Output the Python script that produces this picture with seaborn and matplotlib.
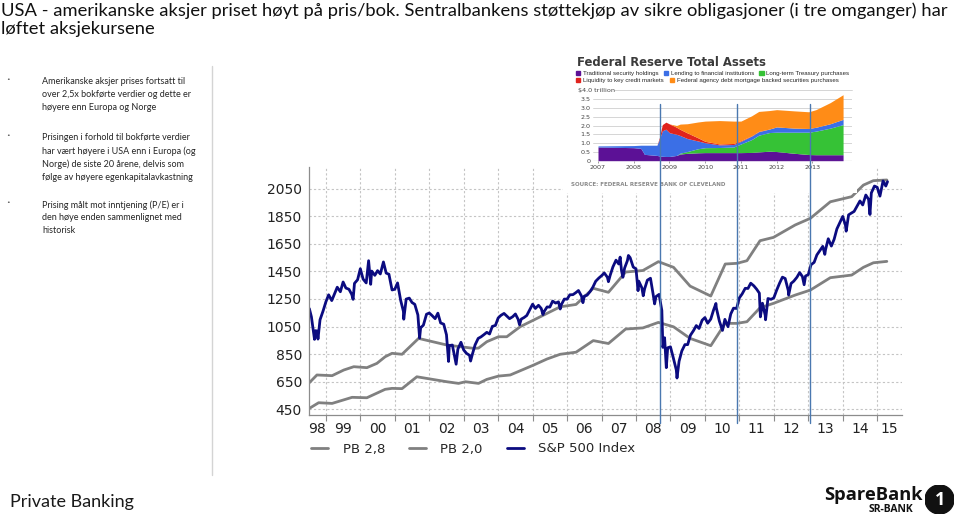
import numpy as np
import pandas as pd
import matplotlib
matplotlib.use('Agg')
import matplotlib.pyplot as plt
import seaborn as sns
from matplotlib.lines import Line2D
from matplotlib.patches import Patch, Circle, Rectangle
from matplotlib.transforms import blended_transform_factory

# S&P 500 (decimal year, close) lest av bildet
sp_year = [1998.52, 1998.58, 1998.67, 1998.70, 1998.75, 1998.77, 1998.83, 1998.92,
           1999.00, 1999.08, 1999.17, 1999.25, 1999.33, 1999.42, 1999.50, 1999.58, 1999.67, 1999.75, 1999.79, 1999.83, 1999.92,
           2000.00, 2000.08, 2000.17, 2000.24, 2000.25, 2000.30, 2000.33, 2000.42, 2000.50, 2000.58, 2000.67, 2000.75, 2000.83, 2000.92,
           2001.00, 2001.08, 2001.17, 2001.25, 2001.26, 2001.33, 2001.42, 2001.50, 2001.58, 2001.67, 2001.72, 2001.75, 2001.83, 2001.92,
           2002.00, 2002.08, 2002.17, 2002.25, 2002.33, 2002.42, 2002.50, 2002.56, 2002.58, 2002.67, 2002.75, 2002.78, 2002.83, 2002.92,
           2003.00, 2003.08, 2003.17, 2003.20, 2003.25, 2003.33, 2003.42, 2003.50, 2003.58, 2003.67, 2003.75, 2003.83, 2003.92,
           2004.00, 2004.08, 2004.17, 2004.25, 2004.33, 2004.42, 2004.50, 2004.58, 2004.62, 2004.67, 2004.75, 2004.83, 2004.92,
           2005.00, 2005.08, 2005.17, 2005.25, 2005.30, 2005.33, 2005.42, 2005.50, 2005.58, 2005.67, 2005.75, 2005.80, 2005.83, 2005.92,
           2006.00, 2006.08, 2006.17, 2006.25, 2006.33, 2006.42, 2006.46, 2006.50, 2006.58, 2006.67, 2006.75, 2006.83, 2006.92,
           2007.00, 2007.08, 2007.17, 2007.20, 2007.25, 2007.33, 2007.42, 2007.50, 2007.54, 2007.58, 2007.62, 2007.67, 2007.75, 2007.78, 2007.83, 2007.92,
           2008.00, 2008.06, 2008.08, 2008.17, 2008.21, 2008.25, 2008.33, 2008.42, 2008.50, 2008.54, 2008.58, 2008.67, 2008.75, 2008.78, 2008.83, 2008.88, 2008.92,
           2009.00, 2009.08, 2009.17, 2009.19, 2009.25, 2009.33, 2009.42, 2009.50, 2009.58, 2009.67, 2009.75, 2009.83, 2009.92,
           2010.00, 2010.08, 2010.17, 2010.25, 2010.32, 2010.33, 2010.42, 2010.50, 2010.51, 2010.58, 2010.67, 2010.75, 2010.83, 2010.92,
           2011.00, 2011.08, 2011.17, 2011.25, 2011.33, 2011.42, 2011.50, 2011.58, 2011.61, 2011.67, 2011.75, 2011.76, 2011.83, 2011.92,
           2012.00, 2012.08, 2012.17, 2012.25, 2012.33, 2012.42, 2012.43, 2012.50, 2012.58, 2012.67, 2012.75, 2012.83, 2012.88, 2012.92,
           2013.00, 2013.08, 2013.17, 2013.25, 2013.33, 2013.42, 2013.48, 2013.50, 2013.58, 2013.67, 2013.75, 2013.83, 2013.92,
           2014.00, 2014.08, 2014.10, 2014.17, 2014.25, 2014.33, 2014.42, 2014.50, 2014.58, 2014.67, 2014.75, 2014.79, 2014.83, 2014.92,
           2015.00, 2015.08, 2015.17, 2015.25, 2015.30]
sp_close = [1180, 1120, 957, 1020, 1017, 959, 1099, 1164,
            1229, 1280, 1238, 1286, 1335, 1302, 1373, 1329, 1320, 1283, 1247, 1363, 1389,
            1469, 1394, 1366, 1527, 1499, 1356, 1452, 1421, 1455, 1431, 1518, 1437, 1429, 1315,
            1320, 1366, 1240, 1160, 1103, 1249, 1256, 1224, 1211, 1134, 966, 1041, 1060, 1139,
            1148, 1130, 1107, 1147, 1076, 1067, 990, 797, 912, 916, 815, 777, 886, 936,
            880, 856, 841, 800, 848, 917, 964, 975, 990, 1008, 996, 1051, 1058,
            1112, 1131, 1145, 1126, 1107, 1121, 1141, 1102, 1063, 1104, 1115, 1130, 1174,
            1212, 1181, 1204, 1181, 1137, 1157, 1192, 1191, 1234, 1220, 1229, 1177, 1207, 1249,
            1248, 1280, 1281, 1295, 1311, 1270, 1223, 1270, 1277, 1304, 1336, 1378, 1401,
            1418, 1438, 1407, 1375, 1421, 1482, 1531, 1503, 1553, 1455, 1407, 1474, 1527, 1565, 1549, 1481,
            1468, 1310, 1379, 1331, 1273, 1323, 1386, 1400, 1280, 1214, 1267, 1283, 1166, 899, 969, 752, 896,
            903, 826, 735, 677, 798, 873, 919, 919, 987, 1021, 1057, 1036, 1096,
            1115, 1074, 1104, 1169, 1217, 1187, 1089, 1031, 1022, 1102, 1049, 1141, 1183, 1181,
            1258, 1286, 1327, 1326, 1364, 1345, 1321, 1292, 1120, 1219, 1131, 1099, 1253, 1247,
            1258, 1312, 1366, 1408, 1398, 1310, 1278, 1362, 1379, 1407, 1441, 1412, 1353, 1416,
            1426, 1498, 1515, 1569, 1598, 1631, 1573, 1606, 1686, 1633, 1682, 1757, 1806,
            1848, 1783, 1741, 1859, 1872, 1884, 1924, 1960, 1931, 2003, 1972, 1862, 2018, 2068,
            2059, 1995, 2105, 2068, 2100]

# Pris/bok-linjer
pb28_year = [1998.52, 1998.74, 1999.18, 1999.52, 1999.81, 2000.19, 2000.48, 2000.72, 2000.92, 2001.21,
             2001.69, 2002.51, 2003.29, 2003.43, 2003.67, 2004.01, 2004.25, 2004.64, 2005.03, 2005.80,
             2006.26, 2006.76, 2007.20, 2007.70, 2008.20, 2008.65, 2009.09, 2009.57, 2010.17, 2010.59,
             2010.93, 2011.22, 2011.60, 2011.99, 2012.62, 2013.06, 2013.64, 2014.26, 2014.60, 2014.89, 2015.28]
pb28 = [643, 699, 694, 735, 759, 752, 783, 831, 856, 849,
        964, 916, 892, 894, 940, 976, 976, 1049, 1097, 1193,
        1210, 1327, 1298, 1445, 1456, 1520, 1479, 1343, 1271, 1503,
        1508, 1527, 1672, 1696, 1786, 1834, 1954, 1991, 2075, 2107, 2112]
pb20_year = [1998.52, 1998.79, 1999.18, 1999.76, 2000.19, 2000.72, 2000.92, 2001.21, 2001.64, 2002.51,
             2002.85, 2003.05, 2003.43, 2003.67, 2004.01, 2004.35, 2004.69, 2005.03, 2005.42, 2005.80,
             2006.26, 2006.76, 2007.20, 2007.70, 2008.20, 2008.65, 2009.09, 2009.57, 2010.17, 2010.59,
             2010.93, 2011.22, 2011.60, 2011.99, 2012.62, 2013.06, 2013.64, 2014.26, 2014.60, 2014.89, 2015.28]
pb20 = [457, 498, 493, 537, 534, 595, 602, 600, 686, 650,
        638, 650, 638, 667, 691, 699, 735, 771, 815, 849,
        864, 948, 927, 1032, 1040, 1080, 1048, 964, 911, 1073,
        1073, 1085, 1186, 1218, 1278, 1314, 1404, 1423, 1479, 1512, 1522]

# Start på de tre støttekjøpsrundene
qe_start = [2008.70, 2010.92, 2013.06]

y_ticks = [450, 650, 850, 1050, 1250, 1450, 1650, 1850, 2050]
year_labels = ['98', '99', '00', '01', '02', '03', '04', '05', '06', '07',
               '08', '09', '10', '11', '12', '13', '14', '15']

# Innfelt figur: Federal Reserve Total Assets (billioner USD)
fed_year = [2007.0, 2008.0, 2008.2, 2008.3, 2008.65, 2008.72, 2008.8, 2008.9, 2009.0, 2009.2,
            2009.3, 2009.5, 2009.8, 2010.0, 2010.4, 2010.8, 2011.0, 2011.3, 2011.5, 2011.8,
            2012.0, 2012.5, 2012.9, 2013.1, 2013.5, 2013.86]
fed_traditional = [0.78, 0.74, 0.70, 0.36, 0.30, 0.27, 0.25, 0.24, 0.24, 0.30,
                   0.38, 0.42, 0.45, 0.46, 0.46, 0.46, 0.46, 0.47, 0.50, 0.54,
                   0.52, 0.42, 0.35, 0.34, 0.34, 0.34]
fed_treasury = [0, 0, 0, 0, 0, 0, 0, 0, 0, 0,
                0.05, 0.10, 0.23, 0.28, 0.29, 0.32, 0.49, 0.73, 0.95, 1.06,
                1.10, 1.20, 1.27, 1.34, 1.51, 1.71]
fed_lending = [0.06, 0.12, 0.18, 0.52, 0.58, 0.95, 1.45, 1.55, 1.35, 1.20,
               1.00, 0.74, 0.44, 0.28, 0.15, 0.14, 0.15, 0.20, 0.20, 0.20,
               0.30, 0.23, 0.21, 0.22, 0.25, 0.30]
fed_liquidity = [0, 0, 0, 0, 0, 0.10, 0.35, 0.40, 0.50, 0.40,
                 0.35, 0.32, 0.18, 0.08, 0.05, 0.06, 0.04, 0.02, 0.02, 0,
                 0, 0, 0, 0, 0, 0]
fed_mbs = [0, 0, 0, 0, 0, 0, 0, 0, 0, 0.10,
           0.30, 0.52, 0.90, 1.15, 1.33, 1.27, 1.11, 1.13, 1.13, 1.05,
           0.98, 0.98, 0.95, 1.00, 1.20, 1.40]
fed_yticks = [0, 0.5, 1.0, 1.5, 2.0, 2.5, 3.0, 3.5]
fed_ytick_labels = ['0', '0.5', '1.0', '1.5', '2.0', '2.5', '3.0', '3.5']
fed_xticks = [2007, 2008, 2009, 2010, 2011, 2012, 2013]

c_purple, c_blue, c_green, c_red, c_orange = '#5c1196', '#3b6fe6', '#36c236', '#e0231d', '#ff8c17'

title_lines = ['USA - amerikanske aksjer priset høyt på pris/bok. Sentralbankens støttekjøp av sikre obligasjoner (i tre omganger) har',
               'løftet aksjekursene']
bullets = ['Amerikanske aksjer prises fortsatt til\nover 2,5x bokførte verdier og dette er\nhøyere enn Europa og Norge',
           'Prisingen i forhold til bokførte verdier\nhar vært høyere i USA enn i Europa (og\nNorge) de siste 20 årene, delvis som\nfølge av høyere egenkapitalavkastning',
           'Prising målt mot inntjening (P/E) er i\nden høye enden sammenlignet med\nhistorisk']

sns.set_theme(style='white')
plt.rcParams['font.family'] = ['DejaVu Sans']

W, H = 959, 518
fig = plt.figure(figsize=(W / 100, H / 100), dpi=100)
fig.patch.set_facecolor('white')


def fx(px):
    return px / W


def fy(py):
    return 1 - py / H


# --- Hovedgraf ---
ax = fig.add_axes([fx(309), fy(415), fx(902) - fx(309), fy(167) - fy(415)])
gray = '#808080'
navy = '#0b0b80'
sns.lineplot(x=pb28_year, y=pb28, ax=ax, color=gray, lw=2, label='PB 2,8', estimator=None)
sns.lineplot(x=pb20_year, y=pb20, ax=ax, color=gray, lw=2, label='PB 2,0', estimator=None)
sns.lineplot(x=sp_year, y=sp_close, ax=ax, color=navy, lw=2, label='S&P 500 Index', estimator=None)

ax.set_xlim(1998.51, 2015.72)
ax.set_ylim(409, 2206)
ax.set_yticks(y_ticks)
years = np.arange(1999, 2016)
ax.set_xticks(years)
ax.set_xticklabels([])
lo, hi = ax.get_xlim()
edges = np.concatenate([[lo], years, [hi]])
ax.set_xticks((edges[:-1] + edges[1:]) / 2, minor=True)
ax.set_xticklabels(year_labels, minor=True)
ax.tick_params(axis='x', which='major', bottom=True, length=4, width=0.8, color='#8c8c8c')
ax.tick_params(axis='x', which='minor', bottom=False, length=0, pad=5, labelsize=10, labelcolor='#222222')
ax.tick_params(axis='y', length=0, pad=5, labelsize=10, labelcolor='#222222')
ax.grid(True, which='major', color='#c4c4c4', lw=0.8, ls=(0, (2, 2)))
for s in ['top', 'right']:
    ax.spines[s].set_visible(False)
for s in ['left', 'bottom']:
    ax.spines[s].set_color('#8c8c8c')
    ax.spines[s].set_linewidth(0.9)
ax.set_xlabel('')
ax.set_ylabel('')

handles, labels = ax.get_legend_handles_labels()
ax.get_legend().remove()
fig.legend(handles, labels, loc='center left', bbox_to_anchor=(fx(311), fy(449)), ncol=3,
           frameon=False, fontsize=9.5, handlelength=1.3, handletextpad=1.1, columnspacing=1.8,
           borderpad=0, borderaxespad=0)

# --- Innfelt Fed-figur ---
fig.add_artist(Rectangle((fx(563), fy(193)), fx(857) - fx(563), fy(48) - fy(193),
                         transform=fig.transFigure, facecolor='white', edgecolor='none', zorder=4))
ins = fig.add_axes([fx(593), fy(160.7), fx(852) - fx(593), fy(90.3) - fy(160.7)])
ins.set_zorder(6)
ins.patch.set_alpha(0)
ins.stackplot(fed_year, fed_traditional, fed_treasury, fed_lending, fed_liquidity, fed_mbs,
              colors=[c_purple, c_green, c_blue, c_red, c_orange], lw=0)
ins.set_xlim(2006.86, 2014.11)
ins.set_ylim(0, 4.0)
ins.set_yticks(fed_yticks)
ins.set_yticklabels(fed_ytick_labels)
ins.set_xticks(fed_xticks)
ins.set_xticklabels([str(y) for y in fed_xticks])
ins.grid(axis='y', color='#cfcfcf', lw=0.6)
ins.set_axisbelow(True)
ins.axhline(4.0, xmin=0.08, color='#cfcfcf', lw=0.6, clip_on=False)
ins.axhline(0, color='#777777', lw=0.8, zorder=3)
ins.tick_params(axis='y', length=0, pad=2, labelsize=4.6, labelcolor='#444444')
ins.tick_params(axis='x', bottom=True, length=1.5, width=0.5, color='#777777', pad=1.5,
                labelsize=4.6, labelcolor='#444444')
for s in ins.spines.values():
    s.set_visible(False)

fig.text(fx(578), fy(90.3), '$4.0 trillion', fontsize=4.6, color='#444444', va='center', zorder=7)
fig.text(fx(577), fy(62.5), 'Federal Reserve Total Assets', fontsize=8.4, weight='bold',
         color='#3a3a3a', va='center', zorder=7)
leg1 = fig.legend([Patch(color=c) for c in [c_purple, c_blue, c_green]],
                  ['Traditional security holdings', 'Lending to financial institutions', 'Long-term Treasury purchases'],
                  loc='center left', bbox_to_anchor=(fx(576), fy(73.3)), ncol=3, frameon=False,
                  prop={'family': 'Liberation Sans', 'size': 4.4}, handlelength=0.7, handleheight=0.7,
                  handletextpad=0.4, columnspacing=0.9, borderpad=0, borderaxespad=0)
leg1.set_zorder(7)
leg2 = fig.legend([Patch(color=c) for c in [c_red, c_orange]],
                  ['Liquidity to key credit markets', 'Federal agency debt mortgage backed securities purchases'],
                  loc='center left', bbox_to_anchor=(fx(576), fy(80.7)), ncol=2, frameon=False,
                  prop={'family': 'Liberation Sans', 'size': 4.4}, handlelength=0.7, handleheight=0.7,
                  handletextpad=0.4, columnspacing=1.1, borderpad=0, borderaxespad=0)
leg2.set_zorder(7)
fig.text(fx(571), fy(184.3), 'SOURCE: FEDERAL RESERVE BANK OF CLEVELAND', fontsize=4.0, weight='bold',
         color='#8a8a8a', va='center', zorder=7)

# QE-linjer over begge grafene
trans = blended_transform_factory(ax.transData, fig.transFigure)
for d in qe_start:
    fig.add_artist(Line2D([d, d], [fy(423), fy(104)], transform=trans, color='#4a78b0', lw=1.0, zorder=10))

# --- Tekst på sliden ---
fig.text(fx(1), fy(16), title_lines[0], fontsize=13.25, family='Lato', color='#111111', va='baseline')
fig.text(fx(1), fy(34.3), title_lines[1], fontsize=13.25, family='Lato', color='#111111', va='baseline')

for top, txt in zip([77, 133, 200], bullets):
    fig.text(fx(42), fy(top), txt, fontsize=6.5, family='Lato', color='#262626', va='top', linespacing=1.55)
    fig.text(fx(6), fy(top), '•', fontsize=4.5, color='#555555', va='top')

fig.add_artist(Line2D([fx(212), fx(212)], [fy(475), fy(66)], color='#d4d4d4', lw=1))

fig.text(fx(10), fy(506.7), 'Private Banking', fontsize=13, family='Lato', color='#1a1a1a', va='baseline')

# Logo
fig.text(fx(824), fy(500.5), 'SpareBank', fontsize=13.2, weight='bold', family='Open Sans',
         color='#111111', va='baseline')
fig.text(fx(869), fy(511.5), 'SR-BANK', fontsize=7.5, weight='bold', family='Open Sans',
         color='#111111', va='baseline')
logo = fig.add_axes([fx(925), fy(514), fx(954) - fx(925), fy(485) - fy(514)])
logo.set_xlim(0, 1)
logo.set_ylim(0, 1)
logo.axis('off')
logo.add_patch(Circle((0.5, 0.5), 0.5, color='#111111'))
logo.text(0.52, 0.48, '1', color='white', fontsize=13, weight='bold', family='Open Sans',
          ha='center', va='center')

fig.savefig('out.png', dpi=100, facecolor='white')
